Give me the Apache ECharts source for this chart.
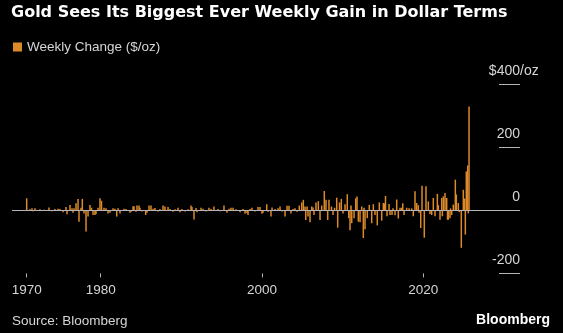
<!DOCTYPE html>
<html>
<head>
<meta charset="utf-8">
<script src="https://cdn.jsdelivr.net/npm/echarts@6/dist/echarts.min.js"></script>
<style>
  html, body { margin: 0; padding: 0; background: #000; }
  #chart { width: 563px; height: 333px; }
</style>
</head>
<body>
<div id="chart"></div>
<script>
// Week (decimal year) of each notable weekly move
const weeks = [
  1970.82, 1971.23, 1971.48, 1971.60, 1971.85, 1972.47, 1972.97, 1973.59, 1973.96, 1974.33,
  1974.71, 1974.95, 1975.33, 1975.70, 1975.82, 1976.19, 1976.44, 1976.57, 1976.69, 1976.94,
  1977.19, 1977.31, 1977.56, 1977.72, 1977.93, 1978.18, 1978.43, 1978.67, 1978.86, 1979.05,
  1979.29, 1979.42, 1979.67, 1979.91, 1980.10, 1980.41, 1980.66, 1980.91, 1981.15, 1981.53,
  1981.77, 1981.99, 1982.15, 1982.39, 1982.89, 1983.14, 1983.63, 1983.76, 1984.01, 1984.13,
  1984.38, 1984.50, 1984.75, 1984.87, 1985.12, 1985.58, 1985.74, 1985.99, 1986.24, 1986.49,
  1986.73, 1987.11, 1987.35, 1987.73, 1987.97, 1988.35, 1988.60, 1988.97, 1989.22, 1989.59,
  1989.84, 1990.08, 1990.46, 1990.83, 1991.20, 1991.32, 1991.57, 1991.82, 1991.94, 1992.44,
  1992.69, 1993.06, 1993.43, 1993.68, 1994.05, 1994.55, 1994.80, 1995.29, 1995.66, 1995.91,
  1996.16, 1996.41, 1996.78, 1997.28, 1997.65, 1997.90, 1998.14, 1998.27, 1998.52, 1998.76,
  1999.14, 1999.51, 1999.76, 2000.00, 2000.13, 2000.59, 2000.75, 2001.12, 2001.25, 2001.62,
  2001.99, 2002.24, 2002.49, 2002.86, 2003.11, 2003.35, 2003.60, 2003.85, 2004.10, 2004.35,
  2004.63, 2004.93, 2005.13, 2005.34, 2005.43, 2005.59, 2005.71, 2005.96, 2006.17, 2006.33,
  2006.45, 2006.70, 2006.99, 2007.20, 2007.41, 2007.73, 2007.94, 2008.15, 2008.31, 2008.62,
  2008.81, 2009.00, 2009.27, 2009.39, 2009.62, 2009.84, 2010.05, 2010.30, 2010.58, 2010.76,
  2010.92, 2011.04, 2011.13, 2011.42, 2011.63, 2011.79, 2011.95, 2012.16, 2012.37, 2012.57,
  2012.66, 2012.78, 2013.06, 2013.31, 2013.61, 2013.81, 2014.02, 2014.30, 2014.55, 2014.85,
  2015.05, 2015.20, 2015.32, 2015.51, 2015.76, 2015.88, 2016.13, 2016.25, 2016.50, 2016.71,
  2016.91, 2017.12, 2017.31, 2017.46, 2017.62, 2017.95, 2018.24, 2018.57, 2018.77, 2018.98,
  2019.19, 2019.39, 2019.48, 2019.69, 2019.85, 2020.13, 2020.34, 2020.63, 2020.84, 2021.05,
  2021.25, 2021.46, 2021.75, 2021.87, 2022.08, 2022.29, 2022.37, 2022.49, 2022.70, 2022.91,
  2023.01, 2023.11, 2023.32, 2023.38, 2023.53, 2023.73, 2023.98, 2024.10, 2024.35, 2024.47,
  2024.72, 2024.97, 2025.14, 2025.22, 2025.34, 2025.52, 2025.59, 2025.68
];

// Weekly change in the gold price, $/oz
const change = [
   38,   3,   6,  -3,   6,   3,   2,   9,  -3,   4,
    5,   4,  -6,  10, -13,  17,   6,  -8,   6,  22,
   36, -36,   8,  36, -10, -67, -20,  17,   8, -15,
  -15, -12,   8,  38,  30,   8,   6, -10,  -8,   6,
    5, -20,   6, -10,   5,   4,  -8,  -5,  13,  13,
   -5,  15,  15,   8,  -4, -15,  -8,  15,  15,   5,
    7,  -4,   4,  15,  12,  10,   4,  -5,   3,   8,
   -6,   4,  -4,   3,  15,  10, -29,   7,  -6,   8,
    5,  -4,   8,   4,  12,   4,  -3,  15,  -8,   5,
    8,   8,   3,  -6,   4, -11,  -9, -15,   4,   8,
   -4,  10,  10, -11,  -8,  19,  -5, -20,   9,   4,
    6,  12,  -4, -20,  14,  14, -10,   4,   6,  -5,
   15,  25,  33,  12, -31,  12, -20, -38,  12,   9,
  -15,  25,  29, -31,  15,  61,  33, -31,  33,  12,
  -15,   8,  40, -55,  25,  36, -10,  19,  51, -25,
  -63,  15, -41, -25,  38,  44, -36, -38,  12, -88,
    8, -60, -25,  17, -41,  19, -15, -48,  25, -33,
   23,  22,  45, -19,  20, -15, -15,   6, -16,  34,
  -26,   8,   8,  22, -15,   8,   6,   6, -19,  60,
   23,  16,  -8, -56,  78, -87,  76,  28, -12, -15,
   39, -19,  52,  16, -30,  39, -19,  44,  55,  39,
  -30, -30, -25,   6, -15,  18,  97,  50,  23,  -6,
 -119,  65,  37, -77, 123, 142, -10, 329
];

// Axis ticks: first observation, then the round decades
const yTicks = [-200, 0, 200, 400];
const xTickYears = [weeks[0], 1980, 2000, 2020];

const ORANGE = '#dc8a29';
const LABEL = '#d6d6d6';
const RULE = '#b4b4b4';
const FONT = 'Liberation Sans';

const chart = echarts.init(document.getElementById('chart'), null, { renderer: 'canvas' });

chart.setOption({
  backgroundColor: '#000',
  animation: false,
  title: [
    {
      text: 'Gold Sees Its Biggest Ever Weekly Gain in Dollar Terms',
      left: 11, top: 5, padding: 0,
      textStyle: { color: '#fff', fontFamily: 'DejaVu Sans', fontWeight: 'bold', fontSize: 16 }
    },
    {
      text: 'Source: Bloomberg',
      left: 12, top: 314, padding: 0,
      textStyle: { color: LABEL, fontFamily: FONT, fontWeight: 'normal', fontSize: 13.5 }
    },
    {
      text: 'Bloomberg',
      right: 13, top: 313, padding: 0,
      textStyle: { color: '#fff', fontFamily: FONT, fontWeight: 'bold', fontSize: 14 }
    }
  ],
  legend: {
    left: 13, top: 40, padding: 0,
    icon: 'rect', itemWidth: 9, itemHeight: 9,
    textStyle: { color: LABEL, fontFamily: FONT, fontSize: 13.5 },
    data: ['Weekly Change ($/oz)']
  },
  grid: { left: 12, right: 43, top: 84, height: 189.4 },
  xAxis: {
    type: 'value',
    min: 1969, max: 2032,
    position: 'bottom',
    axisLine: { show: false, onZero: false },
    splitLine: { show: false },
    axisTick: { show: true, length: 4, lineStyle: { color: RULE }, customValues: xTickYears },
    axisLabel: {
      color: LABEL, fontFamily: FONT, fontSize: 13.5, margin: 10,
      customValues: xTickYears,
      formatter: v => String(Math.floor(v))
    }
  },
  yAxis: [
    {
      type: 'value',
      position: 'right',
      min: yTicks[0], max: yTicks[yTicks.length - 1], interval: 200,
      axisLine: { show: false },
      splitLine: { show: false },
      axisTick: { show: true, inside: true, length: 21, lineStyle: { color: RULE } },
      axisLabel: {
        inside: true, margin: 0, align: 'right', verticalAlign: 'bottom',
        padding: [0, 0, 6, 0],
        color: LABEL, fontFamily: FONT, fontSize: 14,
        formatter: v => (v === yTicks[yTicks.length - 1] ? '$' + v : String(v))
      }
    },
    {
      type: 'value',
      position: 'right',
      min: yTicks[0], max: yTicks[yTicks.length - 1], interval: 200,
      axisLine: { show: false },
      splitLine: { show: false },
      axisTick: { show: false },
      axisLabel: {
        inside: false, margin: 0, align: 'left', verticalAlign: 'bottom',
        padding: [0, 0, 6, 0],
        color: LABEL, fontFamily: FONT, fontSize: 14,
        formatter: v => (v === yTicks[yTicks.length - 1] ? '/oz' : '')
      }
    }
  ],
  series: [
    {
      name: 'Weekly Change ($/oz)',
      type: 'bar',
      barWidth: 1.5,
      itemStyle: { color: ORANGE },
      data: weeks.map((w, i) => [w, change[i]]),
      markLine: {
        silent: true,
        symbol: 'none',
        label: { show: false },
        lineStyle: { color: RULE, width: 1, type: 'solid' },
        data: [{ yAxis: 0 }]
      }
    }
  ]
});
</script>
</body>
</html>
